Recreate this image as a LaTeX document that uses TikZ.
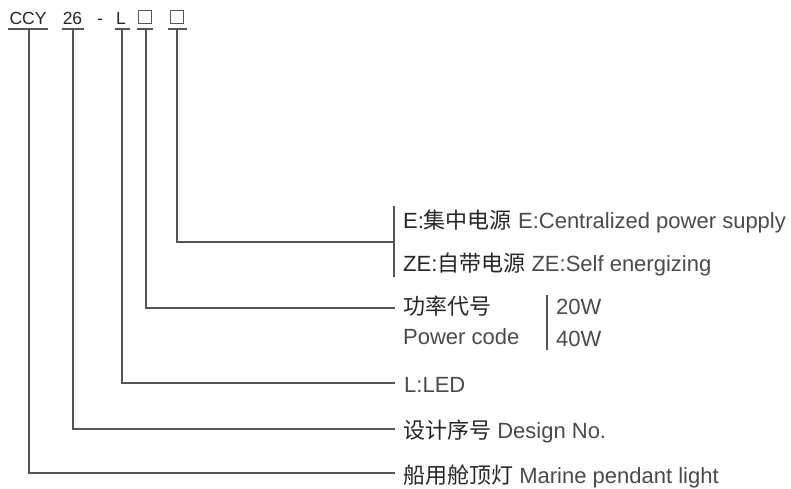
\documentclass[tikz,border=0pt]{standalone}
\usepackage{fontspec}
\setmainfont{Liberation Sans}
\newfontfamily\cjk{Noto Sans CJK SC}
\definecolor{linec}{HTML}{555555}
\definecolor{cntext}{HTML}{262626}
\definecolor{entext}{HTML}{4A4A4A}
\begin{document}
\begin{tikzpicture}[x=1pt,y=-1pt,
  conn/.style={draw=linec,line width=1.1pt},
  codetxt/.style={inner sep=0pt,anchor=base,text=cntext,font=\fontsize{17.5}{20}\selectfont},
  codebox/.style={draw=linec,line width=1pt,minimum size=13pt,inner sep=0pt},
  lbl/.style={inner sep=0pt,anchor=west,text=entext,font=\fontsize{22}{26}\selectfont}]
\useasboundingbox (0,0) rectangle (791,489);
% code line
\node[codetxt] (ccy) at (28,24.5) {CCY};
\node[codetxt] (n26) at (72.5,24.5) {26};
\node[codetxt] (dash) at (100,24.5) {-};
\node[codetxt] (cl) at (121,24.5) {L};
\node[codebox] (b1) at (144.5,17.5) {};
\node[codebox] (b2) at (176.5,17.5) {};
% underlines
\draw[conn] (8,29) -- (48,29);
\draw[conn] (62,29) -- (84,29);
\draw[conn] (115,29) -- (130,29);
\draw[conn] (137,29) -- (153,29);
\draw[conn] (168,29) -- (187,29);
\coordinate (sCCY) at (29,29);
\coordinate (s26) at (73,29);
\coordinate (sL) at (122,29);
\coordinate (sB1) at (146,29);
\coordinate (sB2) at (177,29);
% labels
\node[lbl] (lE) at (403,222) {{\color{cntext}E:\cjk 集中电源} E:Centralized power supply};
\node[lbl] (lZE) at (403,265) {{\color{cntext}ZE:\cjk 自带电源} ZE:Self energizing};
\node[lbl,text=cntext] (lP1) at (403,306) {\cjk 功率代号};
\node[lbl] (lP2) at (403,337) {Power code};
\node[lbl] (w20) at (556,307) {20W};
\node[lbl] (w40) at (556,339) {40W};
\node[lbl] (lLED) at (404,385) {L:LED};
\node[lbl] (lD) at (403,431) {{\color{cntext}\cjk 设计序号} Design No.};
\node[lbl] (lM) at (403,476) {{\color{cntext}\cjk 船用舱顶灯} Marine pendant light};
% brackets
\coordinate (brT) at (394,206);
\coordinate (brB) at (394,277);
\coordinate (brM) at (394,242);
\draw[conn] (brT) -- (brB);
\coordinate (pbT) at (547,295);
\coordinate (pbB) at (547,350);
\draw[conn] (pbT) -- (pbB);
% end points
\coordinate (eP) at (395,308);
\coordinate (eL) at (395,383);
\coordinate (eD) at (395,429);
\coordinate (eM) at (395,473);
% connectors
\draw[conn] (sB2) |- (brM);
\draw[conn] (sB1) |- (eP);
\draw[conn] (sL) |- (eL);
\draw[conn] (s26) |- (eD);
\draw[conn] (sCCY) |- (eM);
\end{tikzpicture}
\end{document}
